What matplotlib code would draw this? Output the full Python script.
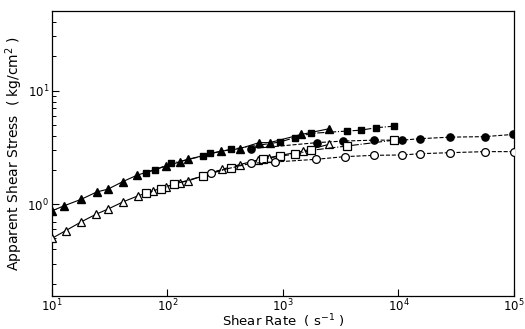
import numpy as np
import matplotlib
matplotlib.use("Agg")
import matplotlib.pyplot as plt
from matplotlib.ticker import LogLocator, NullFormatter

# filled symbols (upper curve)
tri_f_x = [10, 12.7, 18.0, 24.5, 30.5, 41.2, 54.4, 97.8, 127.5, 150.5, 293, 422, 620, 767, 1443, 2502]
tri_f_y = [0.873, 0.966, 1.106, 1.282, 1.354, 1.582, 1.796, 2.168, 2.35, 2.48, 2.93, 3.08, 3.48, 3.48, 4.11, 4.61]
sq_f_x = [64.8, 77.5, 108, 203, 235, 357, 936, 1263, 1762, 3583, 4706, 6437, 9141]
sq_f_y = [1.897, 2.0, 2.29, 2.65, 2.80, 3.04, 3.52, 3.85, 4.20, 4.40, 4.48, 4.71, 4.86]
ci_f_x = [533, 1970, 3300, 6100, 10800, 15300, 28100, 55800, 98000]
ci_f_y = [3.08, 3.48, 3.59, 3.66, 3.66, 3.77, 3.89, 3.93, 4.11]

# open symbols (lower curve)
tri_o_x = [10, 13.1, 18.0, 24.2, 30.5, 41.2, 55.5, 74.9, 97.8, 127.5, 150.5, 299, 422, 608, 757, 1490, 2502]
tri_o_y = [0.50, 0.583, 0.70, 0.817, 0.904, 1.047, 1.183, 1.308, 1.43, 1.55, 1.60, 2.03, 2.23, 2.45, 2.57, 2.93, 3.36]
sq_o_x = [64.8, 88.6, 113.8, 203, 357, 671, 936, 1263, 1762, 3583, 9141]
sq_o_y = [1.249, 1.373, 1.497, 1.77, 2.10, 2.48, 2.65, 2.75, 2.98, 3.25, 3.66]
ci_o_x = [236, 533, 847, 1920, 3421, 6100, 10800, 15300, 28100, 56400, 99500]
ci_o_y = [1.897, 2.29, 2.35, 2.48, 2.62, 2.69, 2.71, 2.78, 2.84, 2.90, 2.90]

fig = plt.figure(figsize=(5.25, 3.29), dpi=100)
ax = fig.add_axes([0.099, 0.100, 0.88, 0.866])

lw = 0.8
k = 'black'
# curves
ax.plot(tri_f_x, tri_f_y, '-', color=k, lw=lw, marker='^', ms=6, mfc=k, mec=k, zorder=3)
ax.plot(sq_f_x, sq_f_y, '-.', color=k, lw=lw, marker='s', ms=4.8, mfc=k, mec=k, zorder=3)
ax.plot(ci_f_x, ci_f_y, '--', color=k, lw=lw, marker='o', ms=5.2, mfc=k, mec=k, zorder=3)
ax.plot(tri_o_x, tri_o_y, '-', color=k, lw=lw, marker='^', ms=6, mfc='white', mec=k, mew=0.9, zorder=3)
ax.plot(sq_o_x, sq_o_y, '-.', color=k, lw=lw, marker='s', ms=5.2, mfc='white', mec=k, mew=0.9, zorder=3)
ax.plot(ci_o_x, ci_o_y, '--', color=k, lw=lw, marker='o', ms=5.6, mfc='white', mec=k, mew=0.9, zorder=3)

ax.set_xscale('log')
ax.set_yscale('log')
ax.set_xlim(10, 1e5)
ax.set_ylim(0.155, 50)

ax.xaxis.set_major_locator(LogLocator(base=10, numticks=10))
ax.xaxis.set_minor_locator(LogLocator(base=10, subs=[], numticks=10))
ax.xaxis.set_minor_formatter(NullFormatter())
ax.yaxis.set_major_locator(LogLocator(base=10, numticks=10))
ax.yaxis.set_minor_locator(LogLocator(base=10, subs=np.arange(2, 10), numticks=10))
ax.yaxis.set_minor_formatter(NullFormatter())

ax.tick_params(which='both', direction='in', labelsize=8.5)
ax.tick_params(which='major', length=5, width=0.8)
ax.tick_params(which='minor', length=3, width=0.7)
ax.tick_params(axis='x', pad=1)
ax.tick_params(axis='y', pad=2)
for s in ax.spines.values():
    s.set_linewidth(0.9)

ax.set_xlabel('Shear Rate  ( s$^{-1}$ )', fontsize=9.5, labelpad=-1)
ax.set_ylabel('Apparent Shear Stress  ( kg/cm$^2$ )', fontsize=10, labelpad=2)

fig.savefig('out.png', dpi=100)
